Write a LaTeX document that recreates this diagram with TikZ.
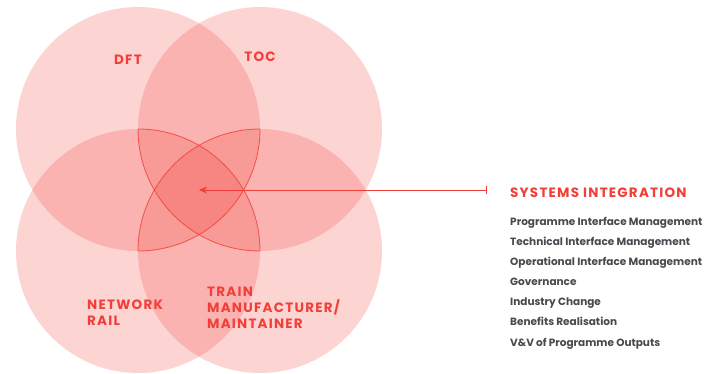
\documentclass[tikz,border=0pt]{standalone}
\usepackage{fontspec}
\setmainfont{Poppins}
\usetikzlibrary{arrows.meta}
\definecolor{sired}{RGB}{242,62,56}
\definecolor{itemgray}{RGB}{72,72,78}
\tikzset{
  party/.style={sired,fill opacity=0.22},
  overlap/.style={sired,line width=0.8pt,draw opacity=0.85},
  tag/.style={text=sired,inner sep=0pt,align=left,
    font=\fontsize{13.5}{16}\selectfont\bfseries\addfontfeature{LetterSpace=9}},
  item/.style={text=itemgray,inner sep=0pt,anchor=base west,font=\fontsize{10.5}{12}\selectfont\bfseries},
}
\begin{document}
\begin{tikzpicture}[x=1pt,y=-1pt]
		\useasboundingbox (0,0) rectangle (717,374);
		% centres of the four parties
		\coordinate (dft) at (138,129);
		\coordinate (toc) at (260,129);
		\coordinate (nr) at (138,251);
		\coordinate (tm) at (260,251);
		\coordinate (hub) at (199,190);
		\coordinate (tick) at (487,190);
		% circles
		\foreach \c in {dft,toc,nr,tm}
			\fill[party] (\c) circle (122);
		% outline of the shared region
		\foreach \c/\a/\b in {nr/-90/0, tm/-90/-180, dft/0/90, toc/180/90}
			\draw[overlap] (\c) ++(\a:122) arc[start angle=\a,end angle=\b,radius=122];
		% party names
		\node[tag,anchor=base] (dft-l) at (128,65) {DFT};
		\node[tag,anchor=base] (toc-l) at (260,62) {TOC};
		\node[tag,anchor=north west] (nr-l) at (87,300) {NETWORK\\RAIL};
		\node[tag,anchor=north west] (tm-l) at (207,287) {TRAIN\\MANUFACTURER/\\MAINTAINER};
		% pointer to the list
		\draw[sired,line width=0.8pt,{Bar[width=8pt]}-{Stealth[length=8pt,width=7pt,inset=2.5pt]}] (tick) -- (hub);
		\node[tag,anchor=base west] (si) at (510,197) {SYSTEMS INTEGRATION};
		% list of activities
		\foreach \t [count=\i from 0] in {Programme Interface Management,Technical Interface Management,Operational Interface Management,Governance,Industry Change,Benefits Realisation,V\&V of Programme Outputs}
			\node[item] (act-\i) at (510,225+20.17*\i) {\t};
\end{tikzpicture}
\end{document}
